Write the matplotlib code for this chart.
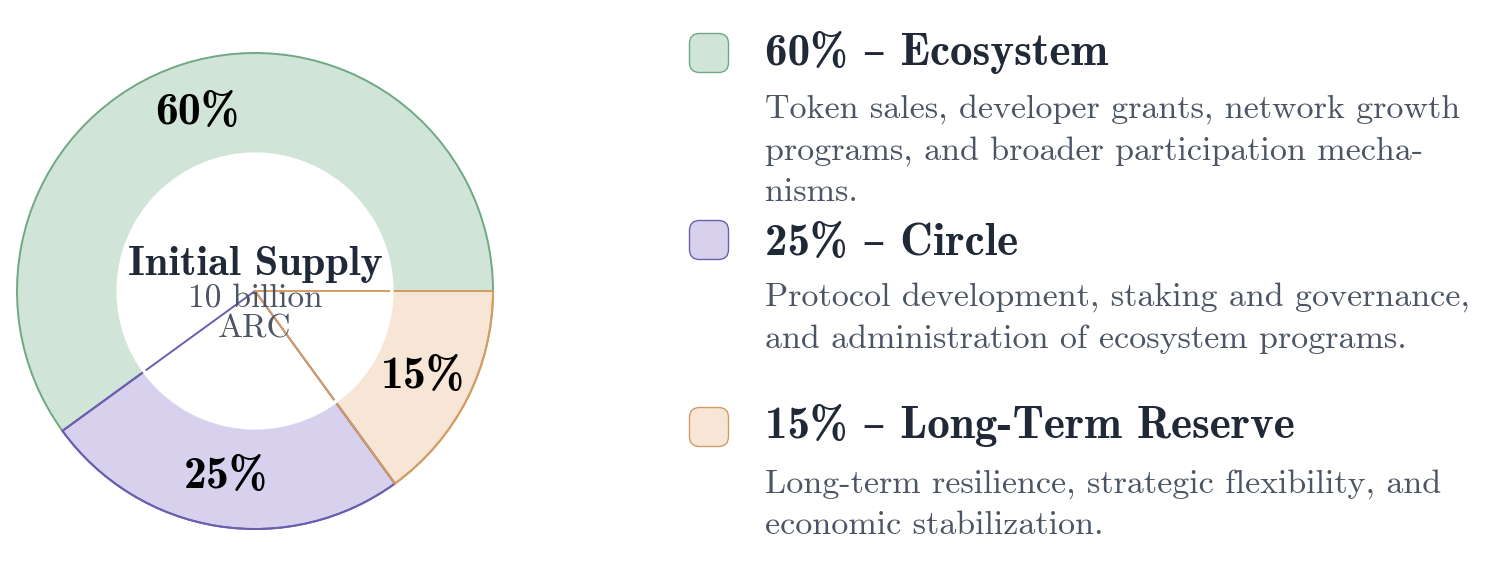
import matplotlib
matplotlib.use("Agg")
import matplotlib.pyplot as plt
from matplotlib.patches import Circle, FancyBboxPatch, Wedge

# --- data -------------------------------------------------------------------
shares = [60, 25, 15]
names = ["Ecosystem", "Circle", "Long-Term Reserve"]
descriptions = [
    "Token sales, developer grants, network growth\nprograms, and broader participation mecha-\nnisms.",
    "Protocol development, staking and governance,\nand administration of ecosystem programs.",
    "Long-term resilience, strategic flexibility, and\neconomic stabilization.",
]
center_title = "Initial Supply"
center_sub = ["10 billion", "ARC"]

fills = ["#d0e4d7", "#d8d1ee", "#f7e6d5"]
edges = ["#6fa883", "#6b5eb0", "#d39c62"]
DARK = "#1f2937"
GRAY = "#4b5563"

ROMAN = ["cmr10", "DejaVu Serif"]
BOLD = ["cmb10", "DejaVu Serif"]
plt.rcParams["axes.unicode_minus"] = False

W, H = 1496, 566
fig = plt.figure(figsize=(W / 100, H / 100), dpi=100)

# --- donut ------------------------------------------------------------------
cx, cy, R = 255, 291, 238
pad = 1.05
ax = fig.add_axes([(cx - R * pad) / W, (H - cy - R * pad) / H,
                   2 * R * pad / W, 2 * R * pad / H])

wedges, _, autotexts = ax.pie(
    shares, colors=fills, startangle=0, counterclock=True, radius=1,
    autopct="%d%%", pctdistance=0.79,
    wedgeprops=dict(linewidth=1.4),
    textprops=dict(family=BOLD, fontsize=33, color="black"),
)
ax.set_xlim(-pad, pad)
ax.set_ylim(-pad, pad)
ax.set_aspect("equal")
ax.axis("off")

for w, ec in zip(wedges, edges):
    w.set_edgecolor(ec)
    w.set_zorder(1)
for t in autotexts:
    t.set_zorder(6)

inner = 0.575
ax.add_patch(Circle((0, 0), inner, facecolor="white", edgecolor="none", zorder=2))
# wedge outlines showing through the hole
for w, ec in zip(wedges[1:], edges[1:]):
    ax.add_patch(Wedge((0, 0), 1, w.theta1, w.theta2, fill=False,
                       edgecolor=ec, linewidth=1.4, zorder=3))
ax.add_patch(Circle((0, 0), inner, fill=False, edgecolor="white", linewidth=2.5, zorder=4))

ax.text(0, 0.067, center_title, ha="center", va="baseline", family=BOLD,
        fontsize=30.5, color=DARK, zorder=5)
for s, y in zip(center_sub, [-0.071, -0.197]):
    ax.text(0, y, s, ha="center", va="baseline", family=ROMAN,
            fontsize=24, color=GRAY, zorder=5)

# --- legend -----------------------------------------------------------------
lg = fig.add_axes([0, 0, 1, 1])
lg.set_xlim(0, W)
lg.set_ylim(H, 0)
lg.axis("off")

swatch_y = [53, 240, 427]
title_base = [65, 255, 438]
desc_base = [118, 306, 493]
step = 41.5
for i in range(len(shares)):
    lg.add_patch(FancyBboxPatch((691, swatch_y[i] - 18), 36, 36,
                                boxstyle="round,pad=1.5,rounding_size=10",
                                facecolor=fills[i], edgecolor=edges[i],
                                linewidth=1.0))
    lg.text(765, title_base[i], f"{shares[i]}% – {names[i]}", ha="left",
            va="baseline", family=BOLD, fontsize=32.5, color=DARK)
    for k, line in enumerate(descriptions[i].split("\n")):
        lg.text(765, desc_base[i] + k * step, line, ha="left", va="baseline",
                family=ROMAN, fontsize=24.5, color=GRAY)

fig.savefig("out.png", dpi=100)
